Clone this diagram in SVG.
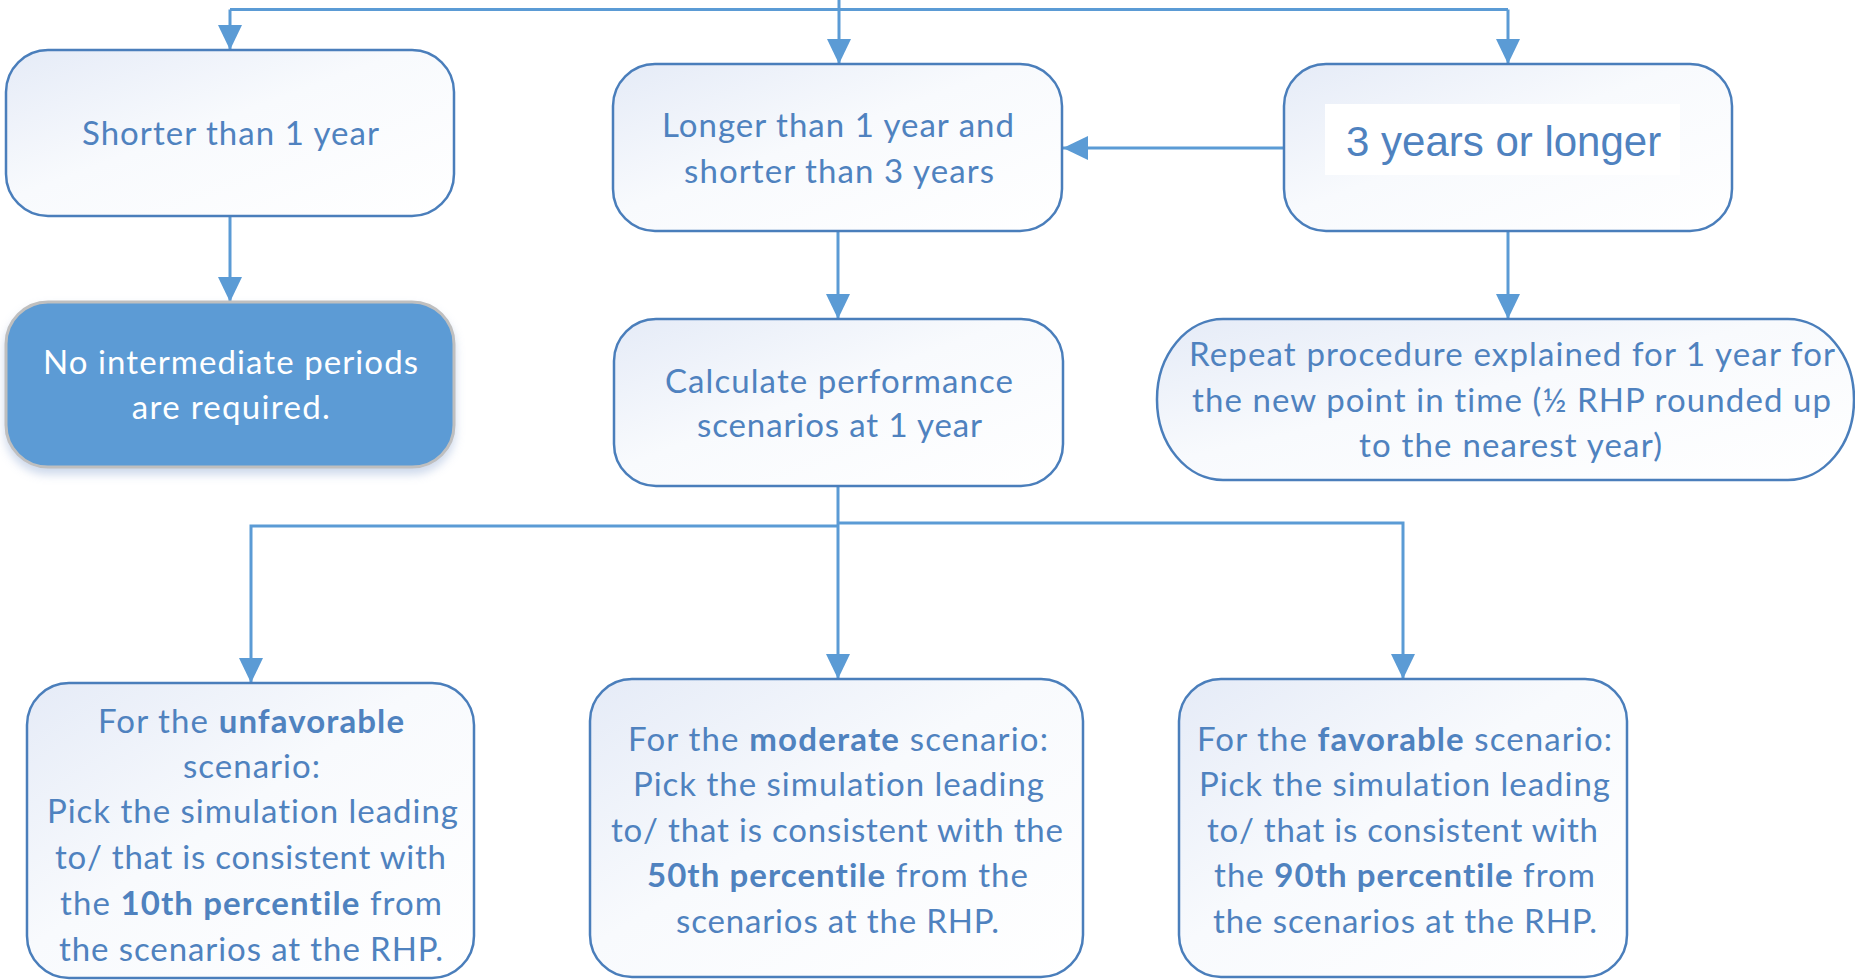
<svg xmlns="http://www.w3.org/2000/svg" width="1855" height="980" viewBox="0 0 1855 980">
<style>
.box{fill:url(#g);stroke:#4A7EBB;stroke-width:2.5}
.t{font-family:Lato,"Noto Sans","Liberation Sans",sans-serif;font-size:33px;fill:#4F82BF;text-anchor:middle;font-variant-ligatures:none;font-feature-settings:"liga" 0,"clig" 0}
.b{font-weight:700}
.w{fill:#FFFFFF}
.c{fill:none;stroke:#5B9BD5;stroke-width:3}
.a{marker-end:url(#arr)}
</style>
<defs>
<linearGradient id="g" x1="0" y1="0" x2="1" y2="1">
<stop offset="0" stop-color="#E5EBF7"/>
<stop offset="0.45" stop-color="#F8FAFD"/>
<stop offset="1" stop-color="#FFFFFF"/>
</linearGradient>
<marker id="arr" markerUnits="userSpaceOnUse" markerWidth="26" markerHeight="24" refX="25" refY="12" orient="auto" viewBox="0 0 26 24">
<path d="M0,0 L25,12 L0,24 Z" fill="#5B9BD5"/>
</marker>
<filter id="sh" x="-10%" y="-10%" width="120%" height="130%">
<feDropShadow dx="0" dy="6" stdDeviation="5" flood-color="#8FA9D3" flood-opacity="0.45"/>
</filter>
</defs>

<g id="connectors">
<path class="c" d="M230,9.5 H1508"/>
<path class="c a" d="M839,0 V64"/>
<path class="c a" d="M230,9.5 V50"/>
<path class="c a" d="M1508,9.5 V64"/>
<path class="c a" d="M230,216 V302"/>
<path class="c a" d="M838,231 V319"/>
<path class="c a" d="M1508,231 V319"/>
<path class="c a" d="M1284,148 H1063"/>
<path class="c a" d="M838,486 V679"/>
<path class="c a" d="M838,526 H251 V683"/>
<path class="c a" d="M838,523 H1403 V679"/>
</g>

<g id="n-shorter">
<rect class="box" x="6" y="50" width="448" height="166" rx="42"/>
<text class="t" x="230.5" y="145" textLength="297">Shorter than 1 year</text>
</g>

<g id="n-none">
<rect x="6" y="302" width="448" height="165" rx="42" fill="#5B9BD5" stroke="#BFBFBF" stroke-width="3" filter="url(#sh)"/>
<text class="t w" x="230.5" y="374" textLength="375">No intermediate periods</text>
<text class="t w" x="230.8" y="419" textLength="198">are required.</text>
</g>

<g id="n-between">
<rect class="box" x="613" y="64" width="449" height="167" rx="42"/>
<text class="t" x="838" y="137" textLength="352">Longer than 1 year and</text>
<text class="t" x="839" y="183" textLength="310">shorter than 3 years</text>
</g>

<g id="n-long">
<rect class="box" x="1284" y="64" width="448" height="167" rx="42"/>
<rect x="1325" y="104" width="355" height="71" fill="#FFFFFF"/>
<text x="1346" y="156" font-family="'Liberation Sans',Arial,sans-serif" font-size="42" fill="#4F82BF">3 years or longer</text>
</g>

<g id="n-calc">
<rect class="box" x="614" y="319" width="449" height="167" rx="42"/>
<text class="t" x="839" y="393" textLength="348">Calculate performance</text>
<text class="t" x="839.5" y="437" textLength="285">scenarios at 1 year</text>
</g>

<g id="n-repeat">
<rect class="box" x="1157" y="319" width="697" height="161" rx="66" ry="80"/>
<text class="t" x="1512" y="366" textLength="646">Repeat procedure explained for 1 year for</text>
<text class="t" x="1511.5" y="412" textLength="639">the new point in time (½ RHP rounded up</text>
<text class="t" x="1510.5" y="457" textLength="303">to the nearest year)</text>
</g>

<g id="n-unfavorable">
<rect class="box" x="27" y="683" width="447" height="295" rx="42"/>
<text class="t" x="251" y="733" textLength="306">For the <tspan class="b">unfavorable</tspan></text>
<text class="t" x="251.5" y="778" textLength="137">scenario:</text>
<text class="t" x="252.5" y="823" textLength="411">Pick the simulation leading</text>
<text class="t" x="250.5" y="869" textLength="391">to/ that is consistent with</text>
<text class="t" x="251" y="915" textLength="382">the <tspan class="b">10th percentile</tspan> from</text>
<text class="t" x="251" y="961" textLength="384">the scenarios at the RHP.</text>
</g>

<g id="n-moderate">
<rect class="box" x="590" y="679" width="493" height="298" rx="42"/>
<text class="t" x="838" y="751" textLength="420">For the <tspan class="b">moderate</tspan> scenario:</text>
<text class="t" x="838.5" y="796" textLength="411">Pick the simulation leading</text>
<text class="t" x="837" y="842" textLength="452">to/ that is consistent with the</text>
<text class="t" x="837.5" y="887" textLength="381"><tspan class="b">50th percentile</tspan> from the</text>
<text class="t" x="837.5" y="933" textLength="323">scenarios at the RHP.</text>
</g>

<g id="n-favorable">
<rect class="box" x="1179" y="679" width="448" height="298" rx="42"/>
<text class="t" x="1404.5" y="751" textLength="415">For the <tspan class="b">favorable</tspan> scenario:</text>
<text class="t" x="1404.5" y="796" textLength="411">Pick the simulation leading</text>
<text class="t" x="1402.5" y="842" textLength="391">to/ that is consistent with</text>
<text class="t" x="1404.5" y="887" textLength="381">the <tspan class="b">90th percentile</tspan> from</text>
<text class="t" x="1405" y="933" textLength="384">the scenarios at the RHP.</text>
</g>
</svg>
